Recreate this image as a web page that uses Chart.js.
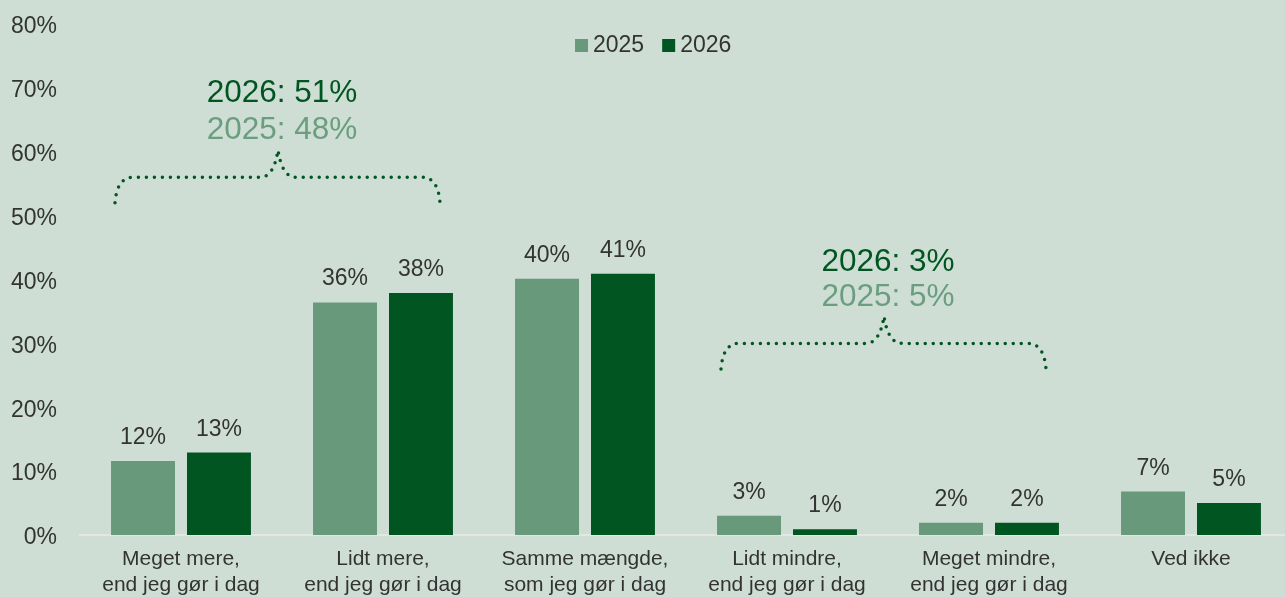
<!DOCTYPE html>
<html>
<head>
<meta charset="utf-8">
<script src="https://cdn.jsdelivr.net/npm/chart.js@4/dist/chart.umd.min.js"></script>
<style>
    html, body { margin: 0; padding: 0; background: #CEDED4; overflow: hidden; }
    canvas { display: block; }
</style>
</head>
<body>
<canvas id="chart" width="1300" height="597"></canvas>
<script>
// Data
const categories = [
    ['Meget mere,', 'end jeg gør i dag'],
    ['Lidt mere,', 'end jeg gør i dag'],
    ['Samme mængde,', 'som jeg gør i dag'],
    ['Lidt mindre,', 'end jeg gør i dag'],
    ['Meget mindre,', 'end jeg gør i dag'],
    ['Ved ikke']
];
const values2025 = [11.6, 36.4, 40.1, 3.0, 1.9, 6.8];
const values2026 = [12.9, 37.9, 40.9, 0.9, 1.9, 5.0];
const labels2025 = ['12%', '36%', '40%', '3%', '2%', '7%'];
const labels2026 = ['13%', '38%', '41%', '1%', '2%', '5%'];
const yTicks = [0, 10, 20, 30, 40, 50, 60, 70, 80];

// Brace annotation texts (2026 line, 2025 line)
const braceTexts = [
    ['2026: 51%', '2025: 48%'],
    ['2026: 3%', '2025: 5%']
];

const light = '#67997A';
const dark = '#005521';
const textColor = '#333333';
const fontFamily = '"Liberation Sans", Arial, sans-serif';

// Data labels above bars
const barLabelsPlugin = {
    id: 'barLabels',
    afterDatasetsDraw: (chart) => {
        const {ctx} = chart;
        const allLabels = [labels2025, labels2026];
        ctx.save();
        ctx.font = '23px ' + fontFamily;
        ctx.fillStyle = textColor;
        ctx.textAlign = 'center';
        ctx.textBaseline = 'alphabetic';
        chart.data.datasets.forEach((ds, d) => {
            chart.getDatasetMeta(d).data.forEach((bar, i) => {
                ctx.fillText(allLabels[d][i], bar.x, bar.y - 17);
            });
        });
        ctx.restore();
    }
};

// Draws a dotted curly brace between two categories, with two text lines above
function drawBrace(chart, fromIdx, toIdx, baseVal, texts, textOffsets) {
    const {ctx, scales} = chart;
    const x = scales.x, y = scales.y;
    const x1 = x.getPixelForValue(fromIdx) - 66;
    const x2 = x.getPixelForValue(toIdx) + 57;
    const xm = (x.getPixelForValue(fromIdx) + x.getPixelForValue(toIdx)) / 2 - 4;
    const yEnd = y.getPixelForValue(baseVal);
    const yFlat = y.getPixelForValue(baseVal + 4);
    const yTip = y.getPixelForValue(baseVal + 8.3);
    const r = 18;

    ctx.save();
    ctx.strokeStyle = dark;
    ctx.lineWidth = 3.5;
    ctx.lineCap = 'round';
    ctx.setLineDash([0, 8]);
    ctx.beginPath();
    ctx.moveTo(x1, yEnd);
    ctx.quadraticCurveTo(x1 + 2, yFlat, x1 + r, yFlat);
    ctx.lineTo(xm - r, yFlat);
    ctx.quadraticCurveTo(xm - 4, yFlat, xm, yTip);
    ctx.quadraticCurveTo(xm + 4, yFlat, xm + r, yFlat);
    ctx.lineTo(x2 - r, yFlat);
    ctx.quadraticCurveTo(x2 - 2, yFlat, x2, yEnd);
    ctx.stroke();
    ctx.restore();

    ctx.save();
    ctx.font = '31.5px ' + fontFamily;
    ctx.textAlign = 'center';
    ctx.textBaseline = 'middle';
    ctx.fillStyle = dark;
    ctx.fillText(texts[0], xm + 4, y.getPixelForValue(baseVal + textOffsets[0]));
    ctx.fillStyle = '#6B9E7F';
    ctx.fillText(texts[1], xm + 4, y.getPixelForValue(baseVal + textOffsets[1]));
    ctx.restore();
}

const bracePlugin = {
    id: 'braces',
    afterDraw: (chart) => {
        drawBrace(chart, 0, 1, 52, braceTexts[0], [17.2, 11.4]);
        drawBrace(chart, 3, 4, 26, braceTexts[1], [16.7, 11.2]);
    }
};

// Legend drawn by hand so the box/text spacing matches
const legendPlugin = {
    id: 'customLegend',
    afterDraw: (chart) => {
        const {ctx} = chart;
        ctx.save();
        ctx.font = '23px ' + fontFamily;
        ctx.textBaseline = 'middle';
        ctx.textAlign = 'left';
        let xPos = 575;
        const yPos = 45;
        chart.data.datasets.forEach((ds) => {
            ctx.fillStyle = ds.backgroundColor;
            ctx.fillRect(xPos, yPos - 6, 13, 13);
            ctx.fillStyle = textColor;
            ctx.fillText(ds.label, xPos + 18, yPos + 1);
            xPos += 18 + ctx.measureText(ds.label).width + 18;
        });
        ctx.restore();
    }
};

const ctx = document.getElementById('chart').getContext('2d');
const chart = new Chart(ctx, {
    type: 'bar',
    data: {
        labels: categories,
        datasets: [{
            label: '2025',
            data: values2025,
            backgroundColor: light,
            borderWidth: 0,
            barPercentage: 0.842,
            categoryPercentage: 0.752
        }, {
            label: '2026',
            data: values2026,
            backgroundColor: dark,
            borderWidth: 0,
            barPercentage: 0.842,
            categoryPercentage: 0.752
        }]
    },
    options: {
        responsive: false,
        animation: false,
        layout: {
            padding: { top: 24, right: 8, bottom: 0, left: 0 }
        },
        plugins: {
            legend: { display: false },
            tooltip: { enabled: false }
        },
        scales: {
            x: {
                afterFit: (scale) => { scale.height = 62; },
                grid: { display: false, drawTicks: false },
                border: { display: true, color: '#E2E7E3', width: 2 },
                ticks: {
                    color: textColor,
                    font: { size: 21, family: fontFamily, lineHeight: 1.24 },
                    padding: 11,
                    maxRotation: 0,
                    autoSkip: false
                }
            },
            y: {
                min: 0,
                max: 80,
                afterFit: (scale) => {
                    scale.width = 80;
                    scale.paddingTop = 0;
                    scale.paddingBottom = 0;
                },
                afterBuildTicks: (scale) => {
                    scale.ticks = yTicks.map(v => ({ value: v }));
                },
                grid: { display: false, drawTicks: false },
                border: { display: false },
                ticks: {
                    color: textColor,
                    font: { size: 23, family: fontFamily },
                    padding: 23,
                    labelOffset: 3,
                    callback: (value) => value + '%'
                }
            }
        }
    },
    plugins: [barLabelsPlugin, bracePlugin, legendPlugin]
});
</script>
</body>
</html>
